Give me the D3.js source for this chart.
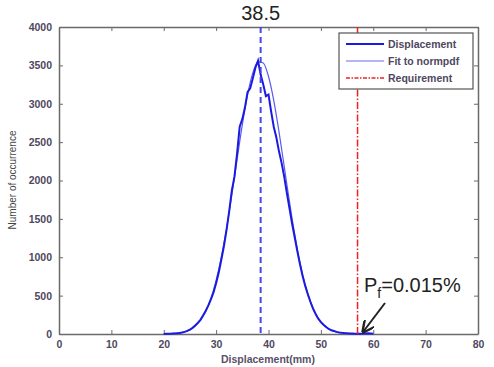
<!DOCTYPE html>
<html>
<head>
<meta charset="utf-8">
<script src="https://cdn.jsdelivr.net/npm/d3@7"></script>
<style>
  body { margin: 0; background: #fff; }
  svg { font-family: 'Liberation Sans', Arial, sans-serif; }
</style>
</head>
<body>
<div id="chart"></div>
<script>
// histogram of displacement, step 0.5 mm
var dispX = [20, 20.5, 21, 21.5, 22, 22.5, 23, 23.5, 24, 24.5, 25, 25.5, 26, 26.5, 27, 27.5, 28, 28.5, 29, 29.5,
             30, 30.5, 31, 31.5, 32, 32.5, 33, 33.5, 34, 34.5, 35, 35.5, 36, 36.5, 37, 37.5, 38, 38.5, 39, 39.5,
             40, 40.5, 41, 41.5, 42, 42.5, 43, 43.5, 44, 44.5, 45, 45.5, 46, 46.5, 47, 47.5, 48, 48.5, 49, 49.5,
             50, 50.5, 51, 51.5, 52, 52.5, 53, 53.5, 54, 54.5, 55, 55.5, 56, 56.5, 57, 57.5, 58, 58.5, 59, 59.5, 60];
var dispY = [0, 2, 3, 5, 8, 10, 14, 20, 28, 40, 58, 80, 110, 145, 185, 240, 300, 370, 450, 540,
             660, 800, 970, 1150, 1360, 1600, 1870, 2050, 2350, 2700, 2800, 2950, 3150, 3200, 3330, 3470, 3560, 3380, 3250, 3100,
             3120, 2900, 2700, 2560, 2380, 2230, 2050, 1840, 1640, 1440, 1260, 1080, 910, 760, 630, 520, 420, 330, 260, 200,
             155, 120, 90, 65, 48, 38, 28, 20, 15, 12, 10, 8, 6, 4, 3, 3, 5, 8, 10, 6, 2];

// fitted normal curve, step 1 mm
var fitX = [20, 21, 22, 23, 24, 25, 26, 27, 28, 29, 30, 31, 32, 33, 34, 35, 36, 37, 38, 39,
            40, 41, 42, 43, 44, 45, 46, 47, 48, 49, 50, 51, 52, 53, 54, 55, 56, 57, 58];
var fitY = [1, 3, 7, 15, 29, 56, 102, 176, 292, 462, 697, 1004, 1381, 1814, 2275, 2725, 3116, 3402, 3547, 3530,
            3355, 3045, 2638, 2183, 1724, 1300, 936, 644, 423, 265, 159, 91, 49, 26, 13, 6, 3, 1, 0];

var meanValue = 38.5;
var requirement = 57;
var xTicks = [0, 10, 20, 30, 40, 50, 60, 70, 80];
var yTicks = [0, 500, 1000, 1500, 2000, 2500, 3000, 3500, 4000];
var legendItems = ['Displacement', 'Fit to normpdf', 'Requirement'];

var W = 494, H = 367;
var m = { left: 59, right: 478, top: 27, bottom: 334 };

var svg = d3.select('#chart').append('svg')
    .attr('width', W)
    .attr('height', H);

var x = d3.scaleLinear().domain([0, 80]).range([m.left, m.right]);
var y = d3.scaleLinear().domain([0, 4000]).range([m.bottom, m.top]);

// axes box with inward ticks on all sides
svg.append('g')
   .attr('transform', `translate(0,${m.bottom})`)
   .call(d3.axisBottom(x).tickValues(xTicks).tickSizeInner(-4).tickSizeOuter(0).tickPadding(7))
   .attr('class', 'ax');
svg.append('g')
   .attr('transform', `translate(0,${m.top})`)
   .call(d3.axisTop(x).tickValues(xTicks).tickSizeInner(-4).tickSizeOuter(0).tickFormat(''))
   .attr('class', 'ax');
svg.append('g')
   .attr('transform', `translate(${m.left},0)`)
   .call(d3.axisLeft(y).tickValues(yTicks).tickSizeInner(-4).tickSizeOuter(0).tickPadding(7).tickFormat(d3.format('d')))
   .attr('class', 'ax');
svg.append('g')
   .attr('transform', `translate(${m.right},0)`)
   .call(d3.axisRight(y).tickValues(yTicks).tickSizeInner(-4).tickSizeOuter(0).tickFormat(''))
   .attr('class', 'ax');

svg.selectAll('.ax .domain').attr('stroke', '#6a6a6a').attr('stroke-width', 1.5);
svg.selectAll('.ax .tick line').attr('stroke', '#6a6a6a');
svg.selectAll('.ax text')
   .attr('fill', '#4f4860')
   .style('font-size', '10.5px')
   .style('font-weight', 'bold');

// fitted curve
svg.append('path')
   .datum(fitX.map((v, i) => [v, fitY[i]]))
   .attr('fill', 'none')
   .attr('stroke', '#5a5af0')
   .attr('stroke-width', 1.2)
   .attr('d', d3.line().curve(d3.curveMonotoneX).x(d => x(d[0])).y(d => y(d[1])));

// displacement histogram
svg.append('path')
   .datum(dispX.map((v, i) => [v, dispY[i]]))
   .attr('fill', 'none')
   .attr('stroke', '#1a1ae0')
   .attr('stroke-width', 2)
   .attr('d', d3.line().x(d => x(d[0])).y(d => y(d[1])));

// mean line
svg.append('line')
   .attr('x1', x(meanValue)).attr('x2', x(meanValue))
   .attr('y1', y(4000)).attr('y2', y(0))
   .attr('stroke', '#4545e8')
   .attr('stroke-width', 2)
   .attr('stroke-dasharray', '6,4');

// requirement line
svg.append('line')
   .attr('x1', x(requirement)).attr('x2', x(requirement))
   .attr('y1', y(4000)).attr('y2', y(0))
   .attr('stroke', '#ee2222')
   .attr('stroke-width', 1.5)
   .attr('stroke-dasharray', '7,2,1.5,2');

// title
svg.append('text')
   .attr('x', x(meanValue))
   .attr('y', 20)
   .attr('text-anchor', 'middle')
   .style('font-size', '20px')
   .attr('fill', '#222')
   .text('38.5');

// axis labels
svg.append('text')
   .attr('x', 268)
   .attr('y', 363)
   .attr('text-anchor', 'middle')
   .style('font-size', '10.5px')
   .style('font-weight', 'bold')
   .attr('fill', '#5a5068')
   .text('Displacement(mm)');

svg.append('text')
   .attr('transform', 'rotate(-90)')
   .attr('x', -180)
   .attr('y', 16)
   .attr('text-anchor', 'middle')
   .style('font-size', '10px')
   .attr('fill', '#444')
   .text('Number of occurrence');

// legend
var legend = svg.append('g').attr('transform', 'translate(339,33)');
legend.append('rect')
   .attr('width', 134).attr('height', 56)
   .attr('fill', '#fff')
   .attr('stroke', '#555')
   .attr('stroke-width', 1.2);
var legendStyles = [
    { stroke: '#1a1ae0', width: 2, dash: null },
    { stroke: '#6a6af0', width: 1.2, dash: null },
    { stroke: '#ee2222', width: 1.5, dash: '4,1.5,1.5,1.5' }
];
legendItems.forEach((name, i) => {
    var yy = 11 + i * 17;
    legend.append('line')
       .attr('x1', 7).attr('x2', 45)
       .attr('y1', yy).attr('y2', yy)
       .attr('stroke', legendStyles[i].stroke)
       .attr('stroke-width', legendStyles[i].width)
       .attr('stroke-dasharray', legendStyles[i].dash);
    legend.append('text')
       .attr('x', 49).attr('y', yy + 4)
       .style('font-size', '10.5px')
       .style('font-weight', 'bold')
       .attr('fill', '#4f4860')
       .text(name);
});

// failure probability annotation
var ann = svg.append('text')
   .attr('x', 364)
   .attr('y', 292)
   .style('font-size', '20px')
   .attr('fill', '#222');
ann.append('tspan').text('P');
ann.append('tspan').attr('dy', 6).style('font-size', '14px').text('f');
ann.append('tspan').attr('dy', -6).text('=0.015%');

svg.append('defs').append('marker')
   .attr('id', 'arrow')
   .attr('viewBox', '0 0 10 10')
   .attr('refX', 9).attr('refY', 5)
   .attr('markerWidth', 6).attr('markerHeight', 6)
   .attr('orient', 'auto')
   .append('path')
   .attr('d', 'M0,0 L10,5 L0,10')
   .attr('fill', 'none')
   .attr('stroke', '#222')
   .attr('stroke-width', 2);

svg.append('line')
   .attr('x1', 385).attr('y1', 303)
   .attr('x2', 363).attr('y2', 332)
   .attr('stroke', '#222')
   .attr('stroke-width', 2)
   .attr('marker-end', 'url(#arrow)');
</script>
</body>
</html>
